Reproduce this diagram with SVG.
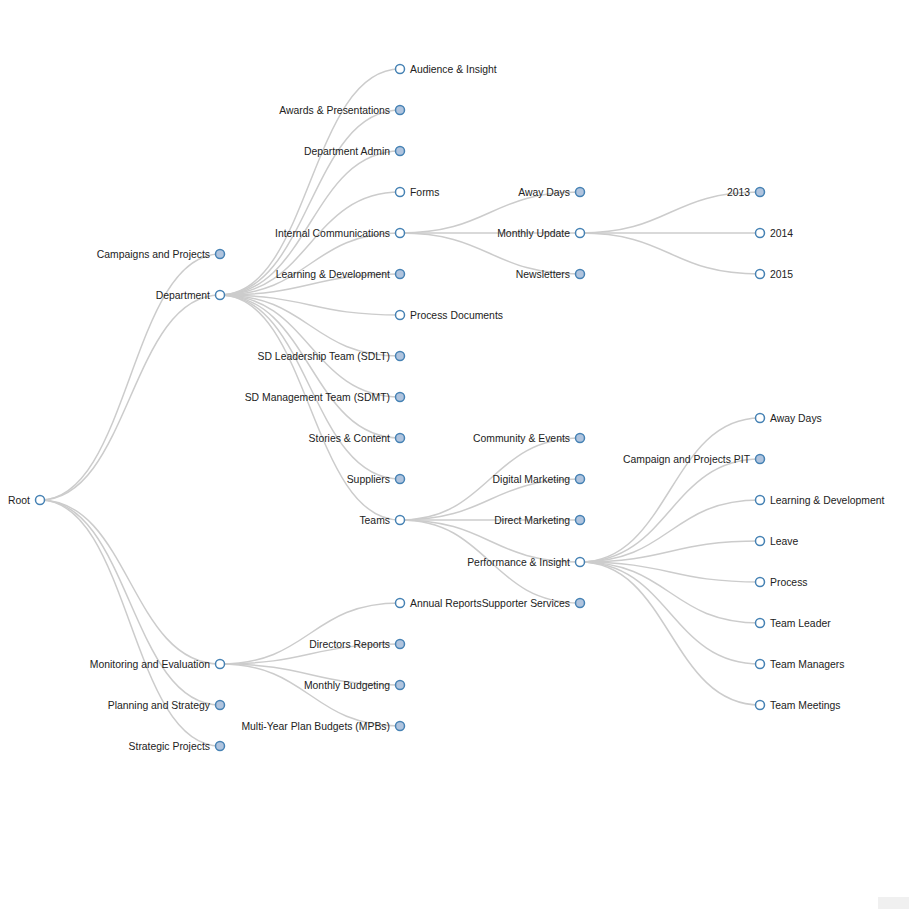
<svg xmlns="http://www.w3.org/2000/svg" width="909" height="909" viewBox="0 0 909 909">
<style>
.l{fill:none;stroke:#ccc;stroke-width:1.5}
circle{stroke:steelblue;stroke-width:1.5;fill:#fff}
.c circle{fill:lightsteelblue}
text{font-family:"Liberation Sans",Arial,sans-serif;font-size:10.4px;fill:#222}
.e{text-anchor:end}
</style>
<rect width="909" height="909" fill="#fff"/>
<rect x="878" y="897" width="31" height="12" fill="#f0f0f0"/>
<g id="links">
<path class="l" d="M40,500C130,500 130,254 220,254"/>
<path class="l" d="M40,500C130,500 130,295 220,295"/>
<path class="l" d="M40,500C130,500 130,664 220,664"/>
<path class="l" d="M40,500C130,500 130,705 220,705"/>
<path class="l" d="M40,500C130,500 130,746 220,746"/>
<path class="l" d="M220,295C310,295 310,69 400,69"/>
<path class="l" d="M220,295C310,295 310,110 400,110"/>
<path class="l" d="M220,295C310,295 310,151 400,151"/>
<path class="l" d="M220,295C310,295 310,192 400,192"/>
<path class="l" d="M220,295C310,295 310,233 400,233"/>
<path class="l" d="M220,295C310,295 310,274 400,274"/>
<path class="l" d="M220,295C310,295 310,315 400,315"/>
<path class="l" d="M220,295C310,295 310,356 400,356"/>
<path class="l" d="M220,295C310,295 310,397 400,397"/>
<path class="l" d="M220,295C310,295 310,438 400,438"/>
<path class="l" d="M220,295C310,295 310,479 400,479"/>
<path class="l" d="M220,295C310,295 310,520 400,520"/>
<path class="l" d="M400,233C490,233 490,192 580,192"/>
<path class="l" d="M400,233C490,233 490,233 580,233"/>
<path class="l" d="M400,233C490,233 490,274 580,274"/>
<path class="l" d="M580,233C670,233 670,192 760,192"/>
<path class="l" d="M580,233C670,233 670,233 760,233"/>
<path class="l" d="M580,233C670,233 670,274 760,274"/>
<path class="l" d="M400,520C490,520 490,438 580,438"/>
<path class="l" d="M400,520C490,520 490,479 580,479"/>
<path class="l" d="M400,520C490,520 490,520 580,520"/>
<path class="l" d="M400,520C490,520 490,562 580,562"/>
<path class="l" d="M400,520C490,520 490,603 580,603"/>
<path class="l" d="M580,562C670,562 670,418 760,418"/>
<path class="l" d="M580,562C670,562 670,459 760,459"/>
<path class="l" d="M580,562C670,562 670,500 760,500"/>
<path class="l" d="M580,562C670,562 670,541 760,541"/>
<path class="l" d="M580,562C670,562 670,582 760,582"/>
<path class="l" d="M580,562C670,562 670,623 760,623"/>
<path class="l" d="M580,562C670,562 670,664 760,664"/>
<path class="l" d="M580,562C670,562 670,705 760,705"/>
<path class="l" d="M220,664C310,664 310,603 400,603"/>
<path class="l" d="M220,664C310,664 310,644 400,644"/>
<path class="l" d="M220,664C310,664 310,685 400,685"/>
<path class="l" d="M220,664C310,664 310,726 400,726"/>
</g>
<g id="root"><circle cx="40" cy="500" r="4.5"/><text class="e" x="30" y="504">Root</text></g>
<g id="campaigns" class="c"><circle cx="220" cy="254" r="4.5"/><text class="e" x="210" y="258">Campaigns and Projects</text></g>
<g id="department"><circle cx="220" cy="295" r="4.5"/><text class="e" x="210" y="299">Department</text></g>
<g id="monitoring"><circle cx="220" cy="664" r="4.5"/><text class="e" x="210" y="668">Monitoring and Evaluation</text></g>
<g id="planning" class="c"><circle cx="220" cy="705" r="4.5"/><text class="e" x="210" y="709">Planning and Strategy</text></g>
<g id="strategic" class="c"><circle cx="220" cy="746" r="4.5"/><text class="e" x="210" y="750">Strategic Projects</text></g>
<g id="audience"><circle cx="400" cy="69" r="4.5"/><text x="410" y="73">Audience &amp; Insight</text></g>
<g id="awards" class="c"><circle cx="400" cy="110" r="4.5"/><text class="e" x="390" y="114">Awards &amp; Presentations</text></g>
<g id="deptadmin" class="c"><circle cx="400" cy="151" r="4.5"/><text class="e" x="390" y="155">Department Admin</text></g>
<g id="forms"><circle cx="400" cy="192" r="4.5"/><text x="410" y="196">Forms</text></g>
<g id="internal"><circle cx="400" cy="233" r="4.5"/><text class="e" x="390" y="237">Internal Communications</text></g>
<g id="ld" class="c"><circle cx="400" cy="274" r="4.5"/><text class="e" x="390" y="278">Learning &amp; Development</text></g>
<g id="process"><circle cx="400" cy="315" r="4.5"/><text x="410" y="319">Process Documents</text></g>
<g id="sdlt" class="c"><circle cx="400" cy="356" r="4.5"/><text class="e" x="390" y="360">SD Leadership Team (SDLT)</text></g>
<g id="sdmt" class="c"><circle cx="400" cy="397" r="4.5"/><text class="e" x="390" y="401">SD Management Team (SDMT)</text></g>
<g id="stories" class="c"><circle cx="400" cy="438" r="4.5"/><text class="e" x="390" y="442">Stories &amp; Content</text></g>
<g id="suppliers" class="c"><circle cx="400" cy="479" r="4.5"/><text class="e" x="390" y="483">Suppliers</text></g>
<g id="teams"><circle cx="400" cy="520" r="4.5"/><text class="e" x="390" y="524">Teams</text></g>
<g id="annual"><circle cx="400" cy="603" r="4.5"/><text x="410" y="607">Annual Reports</text></g>
<g id="directors" class="c"><circle cx="400" cy="644" r="4.5"/><text class="e" x="390" y="648">Directors Reports</text></g>
<g id="budgeting" class="c"><circle cx="400" cy="685" r="4.5"/><text class="e" x="390" y="689">Monthly Budgeting</text></g>
<g id="mypb" class="c"><circle cx="400" cy="726" r="4.5"/><text class="e" x="390" y="730">Multi-Year Plan Budgets (MPBs)</text></g>
<g id="awaydays1" class="c"><circle cx="580" cy="192" r="4.5"/><text class="e" x="570" y="196">Away Days</text></g>
<g id="monthly"><circle cx="580" cy="233" r="4.5"/><text class="e" x="570" y="237">Monthly Update</text></g>
<g id="newsletters" class="c"><circle cx="580" cy="274" r="4.5"/><text class="e" x="570" y="278">Newsletters</text></g>
<g id="community" class="c"><circle cx="580" cy="438" r="4.5"/><text class="e" x="570" y="442">Community &amp; Events</text></g>
<g id="digital" class="c"><circle cx="580" cy="479" r="4.5"/><text class="e" x="570" y="483">Digital Marketing</text></g>
<g id="direct" class="c"><circle cx="580" cy="520" r="4.5"/><text class="e" x="570" y="524">Direct Marketing</text></g>
<g id="perf"><circle cx="580" cy="562" r="4.5"/><text class="e" x="570" y="566">Performance &amp; Insight</text></g>
<g id="supporter" class="c"><circle cx="580" cy="603" r="4.5"/><text class="e" x="570" y="607">Supporter Services</text></g>
<g id="y2013" class="c"><circle cx="760" cy="192" r="4.5"/><text class="e" x="750" y="196">2013</text></g>
<g id="y2014"><circle cx="760" cy="233" r="4.5"/><text x="770" y="237">2014</text></g>
<g id="y2015"><circle cx="760" cy="274" r="4.5"/><text x="770" y="278">2015</text></g>
<g id="awaydays2"><circle cx="760" cy="418" r="4.5"/><text x="770" y="422">Away Days</text></g>
<g id="pit" class="c"><circle cx="760" cy="459" r="4.5"/><text class="e" x="750" y="463">Campaign and Projects PIT</text></g>
<g id="ld2"><circle cx="760" cy="500" r="4.5"/><text x="770" y="504">Learning &amp; Development</text></g>
<g id="leave"><circle cx="760" cy="541" r="4.5"/><text x="770" y="545">Leave</text></g>
<g id="process2"><circle cx="760" cy="582" r="4.5"/><text x="770" y="586">Process</text></g>
<g id="leader"><circle cx="760" cy="623" r="4.5"/><text x="770" y="627">Team Leader</text></g>
<g id="managers"><circle cx="760" cy="664" r="4.5"/><text x="770" y="668">Team Managers</text></g>
<g id="meetings"><circle cx="760" cy="705" r="4.5"/><text x="770" y="709">Team Meetings</text></g>
</svg>
